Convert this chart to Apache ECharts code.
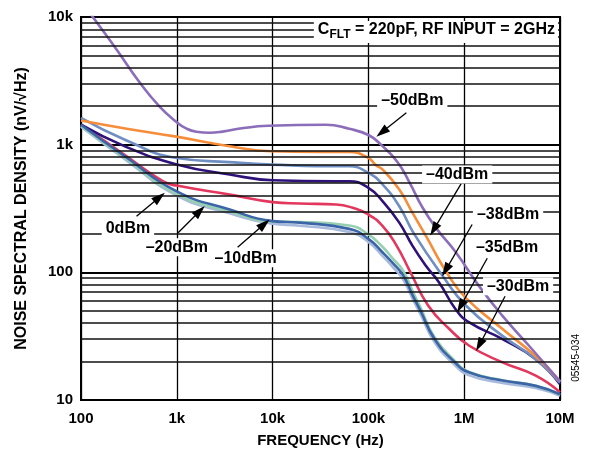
<!DOCTYPE html>
<html><head><meta charset="utf-8">
<script src="https://cdn.jsdelivr.net/npm/echarts@6.0.0/dist/echarts.min.js"></script>
<style>html,body{margin:0;padding:0;background:#fff}#c{width:591px;height:453px}</style>
</head><body><div id="c"></div>
<script>
// ---- data (frequency Hz, noise nV/√Hz) ----
const xTickLabels = ['100','1k','10k','100k','1M','10M'];
const yTickLabels = ['10','100','1k','10k'];
const minorGrid = [20,30,40,50,60,70,80,90,200,300,400,500,600,700,800,900,2000,3000,4000,5000,6000,7000,8000,9000];

const m50 = [[100,13500],[133,10000],[237,5520],[412,3050],[665,1980],[1000,1500],[1250,1340],[1600,1262],[2200,1240],[3000,1265],[5000,1350],[9000,1405],[36000,1433],[63000,1330],[100000,1190],[135000,1000],[200000,735],[270000,502],[360000,330],[507000,223],[820000,143],[1430000,78],[2510000,45.6],[4750000,26.6],[10000000,14]];
const m40 = [[100,1549],[290,1340],[953,1161],[3830,964],[9680,887],[30000,875],[63000,877],[100000,787],[120000,690],[141000,638],[210000,445],[289000,292],[400000,192],[644000,102],[1040000,63],[2510000,36],[5580000,22],[10000000,14]];
const m38 = [[100,1618],[287,1094],[1000,785],[3500,730],[10000,698],[54000,677],[63000,677],[100000,601],[141000,487],[210000,329],[300000,200],[594000,94],[1040000,55],[2510000,31.8],[5580000,20.9],[10000000,13.7]];
const m35 = [[100,1433],[287,970],[1000,700],[3565,584],[10000,527],[46000,517],[63000,517],[100000,459],[141000,360],[210000,245],[289000,161],[400000,112],[549000,83],[820000,51],[1130000,40.5],[2510000,30],[5580000,20.9],[10000000,13.3]];
const m30 = [[100,1440],[287,830],[715,517],[1000,478],[3565,406],[10000,355],[19100,346],[46000,340],[68600,320],[100000,284],[141000,230],[194000,165],[275000,100],[420000,55],[700000,36],[1130000,26.6],[2510000,19.7],[5580000,15.5],[10000000,11.5]];
const p0 = [[100,1380],[287,770],[1000,400],[3565,290],[10000,240],[19100,232],[63000,207],[100000,173],[141000,134],[180000,110],[230000,88],[290000,62],[350000,47],[490000,28.5],[785000,19],[1130000,15.6],[2510000,13.6],[5580000,12.4],[10000000,10.8]];
const m20 = [[100,1400],[287,790],[1000,410],[3565,300],[10000,250],[19100,248],[63000,233],[100000,198],[141000,158],[180000,128],[230000,103],[290000,71],[350000,53],[490000,31],[785000,20.5],[1130000,16.6],[2510000,14.3],[5580000,12.9],[10000000,11.0]];
const m10 = [[100,1433],[287,811],[1000,431],[3565,310],[10000,252],[19100,245],[63000,219],[100000,183],[141000,143],[180000,118],[230000,95],[290000,66],[350000,50],[490000,30],[785000,20],[1130000,16.4],[2510000,14.2],[5580000,12.9],[10000000,11.1]];

const labelText = ['–50dBm','–40dBm','–38dBm','–35dBm','–30dBm','0dBm','–20dBm','–10dBm'];
const labelPos = [[287000,2208],[845000,584],[2870000,284],[2800000,157],[3650000,77.8],[309,221],[1000,157],[5230,129]];
const arrowFrom = [[249000,1778],[930000,496],[1210000,237],[1740000,129],[2670000,64.9],[380,275],[1032,204],[4315,157]];
const arrowTo = [[138000,1250],[482000,217],[641000,104],[917000,54.3],[1440000,27.0],[659,387],[1738,302],[8200,239]];

const FONT = 'Liberation Sans, Arial, sans-serif';
const chart = echarts.init(document.getElementById('c'), null, {renderer:'canvas'});

function curve(name, data, color, z){
  return {name, type:'line', data, smooth:0.5, showSymbol:false, symbol:'none', z:z||3,
    lineStyle:{color, width:2.6}, silent:true, animation:false};
}

chart.setOption({
  animation:false,
  backgroundColor:'#fff',
  title:{
    text:'{a|C}{b|FLT}{a| = 220pF, RF INPUT = 2GHz}',
    right:33, top:18, backgroundColor:'#fff', padding:[1,3,2,4],
    textStyle:{rich:{
      a:{fontFamily:FONT,fontWeight:'bold',fontSize:16,color:'#000',lineHeight:22,verticalAlign:'middle'},
      b:{fontFamily:FONT,fontWeight:'bold',fontSize:12,color:'#000',lineHeight:22,verticalAlign:'bottom'}
    }}
  },
  grid:{left:81,right:31,top:17,bottom:52,show:true,borderColor:'#000',borderWidth:2,backgroundColor:'#fff'},
  xAxis:{type:'log',logBase:10,min:100,max:10000000,
    name:'FREQUENCY (Hz)',nameLocation:'middle',nameGap:33,
    nameTextStyle:{fontFamily:FONT,fontWeight:'bold',fontSize:15,color:'#000'},
    axisLine:{show:true,lineStyle:{color:'#000',width:2}},
    axisTick:{show:false},
    axisLabel:{margin:11,fontFamily:FONT,fontWeight:'bold',fontSize:15,color:'#000',
      formatter:v=>xTickLabels[Math.round(Math.log10(v))-2]},
    splitLine:{show:true,lineStyle:{color:'#000',width:1.3}}
  },
  yAxis:{type:'log',logBase:10,min:10,max:10000,
    name:'NOISE SPECTRAL DENSITY (nV/√Hz)',nameLocation:'middle',nameGap:51,
    nameTextStyle:{fontFamily:FONT,fontWeight:'bold',fontSize:16,color:'#000'},
    axisLine:{show:true,lineStyle:{color:'#000',width:2}},
    axisTick:{show:false},
    axisLabel:{margin:8,fontFamily:FONT,fontWeight:'bold',fontSize:15,color:'#000',
      formatter:v=>yTickLabels[Math.round(Math.log10(v))-1]},
    splitLine:{show:true,lineStyle:{color:'#000',width:1.8}}
  },
  graphic:[{type:'text',left:571,top:334,rotation:Math.PI/2,
    style:{text:'05545-034',font:'10px '+FONT,fill:'#000'}}],
  series:[
    {type:'line',data:[],z:1,silent:true,
      markLine:{silent:true,symbol:'none',animation:false,label:{show:false},
        lineStyle:{color:'#111',width:1.5,type:'solid'},
        data:minorGrid.map(v=>({yAxis:v}))}},
    curve('-30dBm',m30,'#e3375d'),
    curve('-35dBm',m35,'#2e1179'),
    curve('-38dBm',m38,'#6f8fc3'),
    curve('-40dBm',m40,'#f68d3b'),
    curve('-50dBm',m50,'#8b6dba'),
    curve('0dBm',p0,'#a7badb'),
    curve('-20dBm',m20,'#97cfb1'),
    curve('-10dBm',m10,'#3b65a7'),
    {type:'line',data:[],z:8,silent:true,
      markLine:{silent:true,animation:false,symbol:['none','triangle'],symbolSize:[9,14],
        label:{show:false},lineStyle:{color:'#000',width:1.3,type:'solid'},
        data:arrowFrom.map((a,i)=>[{coord:a},{coord:arrowTo[i]}])},
      markPoint:{silent:true,animation:false,symbol:'rect',symbolSize:0,
        label:{show:true,position:'inside',formatter:p=>p.name,backgroundColor:'#fff',padding:[1,4],
          color:'#000',fontSize:16,fontWeight:'bold',fontFamily:FONT},
        data:labelText.map((t,i)=>({name:t,coord:labelPos[i]}))}}
  ]
});
</script></body></html>
